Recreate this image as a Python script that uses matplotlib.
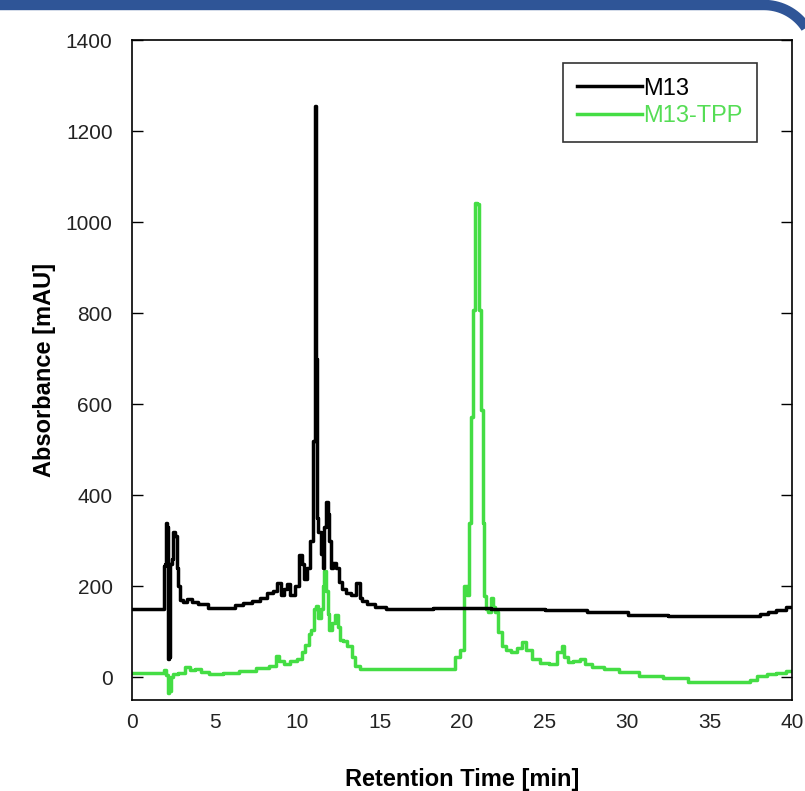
import matplotlib.pyplot as plt
import numpy as np
from matplotlib.path import Path
from matplotlib.patches import PathPatch
from matplotlib.transforms import IdentityTransform

plt.rcParams['font.family'] = ['Liberation Sans', 'DejaVu Sans']

# M13 trace (retention time [min], absorbance [mAU])
m13_t = [0.0, 1.9, 1.95, 2.05, 2.1, 2.15, 2.2, 2.25, 2.35, 2.45, 2.55, 2.65, 2.75, 2.85,
         2.95, 3.2, 3.5, 3.8, 4.2, 5.0, 6.0, 6.5, 7.0, 7.5, 8.0, 8.4, 8.7, 8.9, 9.1, 9.3,
         9.5, 9.7, 10.0, 10.2, 10.35, 10.5, 10.7, 10.9, 11.05, 11.15, 11.2, 11.25, 11.35,
         11.5, 11.6, 11.7, 11.8, 11.9, 12.0, 12.1, 12.3, 12.45, 12.6, 12.8, 13.1, 13.4,
         13.7, 13.9, 14.0, 14.5, 15.0, 15.8, 18.0, 18.5, 25.0, 25.1, 27.5, 27.6, 30.0,
         30.1, 32.4, 32.5, 37.8, 38.3, 38.8, 39.3, 40.0]
m13_a = [150, 150, 245, 250, 340, 330, 40, 45, 250, 260, 320, 310, 240, 200,
         170, 165, 172, 165, 160, 152, 152, 158, 163, 168, 175, 185, 190, 208, 180, 195,
         205, 180, 200, 268, 250, 215, 240, 300, 520, 1255, 700, 350, 320,
         270, 240, 330, 386, 360, 300, 240, 252, 240, 210, 195, 185, 180,
         208, 175, 168, 162, 155, 150, 150, 152, 150, 147, 147, 143, 143,
         138, 138, 134, 134, 140, 144, 148, 155]

# M13-TPP trace
tpp_t = [0.0, 1.9, 2.0, 2.1, 2.2, 2.3, 2.4, 2.6, 3.0, 3.4, 3.6, 4.0, 4.3, 5.0, 6.0, 7.0,
         8.0, 8.6, 8.85, 9.0, 9.4, 9.8, 10.2, 10.4, 10.6, 10.8, 10.9, 11.1, 11.2, 11.35,
         11.5, 11.6, 11.7, 11.8, 11.9, 12.0, 12.2, 12.4, 12.55, 12.7, 12.9, 13.2, 13.4,
         13.6, 14.0, 19.5, 19.7, 20.0, 20.2, 20.35, 20.45, 20.6, 20.7, 20.85, 21.0, 21.1,
         21.2, 21.3, 21.4, 21.5, 21.7, 21.8, 21.95, 22.1, 22.3, 22.5, 22.8, 23.1, 23.5,
         23.8, 24.0, 24.5, 25.0, 25.5, 26.0, 26.1, 26.3, 26.5, 27.0, 27.3, 27.6, 28.2,
         29.0, 30.0, 31.4, 33.0, 34.4, 37.3, 37.6, 38.2, 38.8, 39.3, 40.0]
tpp_a = [10, 10, 15, 5, -35, -30, 0, 8, 10, 22, 15, 18, 12, 8, 10, 14,
         20, 25, 46, 35, 30, 35, 40, 55, 70, 95, 105, 150, 156, 130,
         150, 200, 233, 190, 140, 105, 120, 138, 110, 83, 80, 68, 45,
         24, 18, 18, 45, 60, 200, 180, 340, 573, 808, 1042, 1040, 808,
         588, 340, 178, 150, 143, 175, 155, 143, 100, 68, 60, 55, 65,
         77, 60, 40, 32, 29, 55, 68, 45, 33, 36, 40, 30, 22,
         18, 12, 2, -2, -10, -10, -5, 2, 8, 10, 13]

fig = plt.figure(figsize=(8.05, 7.91), dpi=100)
ax = fig.add_axes([0.164, 0.115, 0.820, 0.834])

ax.plot(m13_t, m13_a, color='black', lw=2.5, label='M13', zorder=3,
        drawstyle='steps-mid')
ax.plot(tpp_t, tpp_a, color='#44dd44', lw=2.5, label='M13-TPP', zorder=2,
        drawstyle='steps-mid')

ax.set_xlim(0, 40)
ax.set_ylim(-50, 1400)
ax.set_xticks(np.arange(0, 41, 5))
ax.set_yticks(np.arange(0, 1401, 200))
ax.tick_params(axis='x', length=0, pad=9, labelsize=15, labelcolor='#222222')
ax.tick_params(axis='y', direction='in', length=8, width=1, right=True,
               pad=14, labelsize=15, labelcolor='#222222')
for s in ax.spines.values():
    s.set_linewidth(1.2)

ax.set_xlabel('Retention Time [min]', fontsize=17, fontweight='bold', labelpad=26)
ax.set_ylabel('Absorbance [mAU]', fontsize=17, fontweight='bold', labelpad=7)

leg = ax.legend(loc='upper right', bbox_to_anchor=(0.947, 0.965), fontsize=17,
                frameon=True, fancybox=False, edgecolor='black', handlelength=2.75,
                handletextpad=0.05, borderpad=0.6, labelspacing=0.25,
                borderaxespad=0)
leg.get_frame().set_linewidth(1.2)
leg.get_texts()[1].set_color('#55dd55')

# blue rounded frame around the panel (display pixels, origin bottom-left)
W, H = 805, 791
R = 50
cx, cy = 764, H - 5 - R
ang = np.linspace(np.pi / 2, 0, 30)
verts = [(-20, H - 5)] + [(cx + R * np.cos(a), cy + R * np.sin(a)) for a in ang] + [(cx + R, -20)]
frame = PathPatch(Path(verts), transform=IdentityTransform(), fill=False,
                  edgecolor='#2f5597', linewidth=7.5, clip_on=False, capstyle='butt')
fig.patches.append(frame)

fig.savefig('out.png', dpi=100)
